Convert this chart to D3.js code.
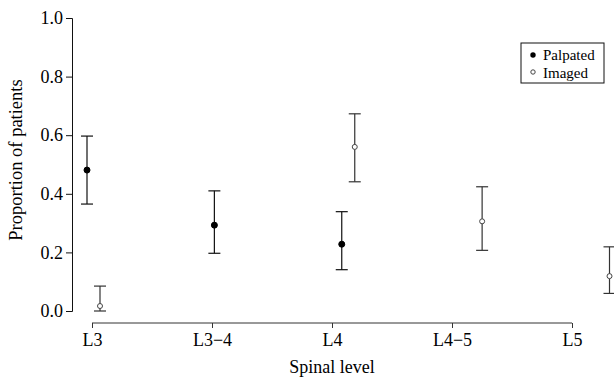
<!DOCTYPE html>
<html>
<head>
<meta charset="utf-8">
<script src="https://cdn.jsdelivr.net/npm/d3@7"></script>
<style>
  body { margin: 0; background: #fff; }
  text { font-family: "Liberation Serif", "DejaVu Serif", serif; }
</style>
</head>
<body>
<svg id="chart" width="614" height="378"></svg>
<script>
const levels = ["L3", "L3\u22124", "L4", "L4\u22125", "L5"];
const yTicks = [0, 0.2, 0.4, 0.6, 0.8, 1.0];

// proportion with lower/upper interval, per spinal level
const palpated = [
  { level: "L3", p: 0.481, lo: 0.365, hi: 0.597 },
  { level: "L3\u22124", p: 0.293, lo: 0.197, hi: 0.410 },
  { level: "L4", p: 0.228, lo: 0.141, hi: 0.339 }
];
const imaged = [
  { level: "L3", p: 0.017, lo: 0.0, hi: 0.085 },
  { level: "L4", p: 0.560, lo: 0.441, hi: 0.673 },
  { level: "L4\u22125", p: 0.306, lo: 0.207, hi: 0.424 },
  { level: "L5", p: 0.119, lo: 0.060, hi: 0.219 }
];

const svg = d3.select("#chart");
const FONT = "18px";

const y = d3.scaleLinear().domain([0, 1]).range([311, 18]);
// axis ticks and plotted points sit on slightly different spacing in the original
const xAxisScale = d3.scalePoint().domain(levels).range([92, 572]);
const xPts = d3.scalePoint().domain(levels).range([93.5, 603]);
const dodge = { palpated: -6.5, imaged: 6.5 };

// y axis
const yAxis = svg.append("g")
  .attr("transform", "translate(72,0)")
  .call(d3.axisLeft(y).tickValues(yTicks).tickFormat(d3.format(".1f")).tickSize(6).tickPadding(3));
yAxis.selectAll("path,line").attr("stroke", "#111");
yAxis.selectAll("text").style("font-size", FONT).attr("fill", "#000")
  .style("font-family", "'Liberation Serif', serif");

// x axis
const xAxis = svg.append("g")
  .attr("transform", "translate(0,323)")
  .call(d3.axisBottom(xAxisScale).tickSize(5).tickPadding(5).tickSizeOuter(0));
xAxis.select("path").attr("d", `M${xAxisScale(levels[0])},0H${xAxisScale(levels[4])}`);
xAxis.selectAll("path,line").attr("stroke", "#333");
xAxis.selectAll("text").style("font-size", FONT).attr("fill", "#000")
  .style("font-family", "'Liberation Serif', serif");

// axis titles
svg.append("text")
  .attr("x", 332).attr("y", 373)
  .attr("text-anchor", "middle")
  .style("font-size", FONT).attr("fill", "#000")
  .text("Spinal level");
svg.append("text")
  .attr("transform", "translate(22,160) rotate(-90)")
  .attr("text-anchor", "middle")
  .style("font-size", "18.5px").attr("fill", "#000")
  .text("Proportion of patients");

function drawSeries(data, key, color, filled) {
  const g = svg.append("g");
  const cx = d => xPts(d.level) + dodge[key];
  const cap = 6;
  g.selectAll("line.bar").data(data).join("line")
    .attr("x1", cx).attr("x2", cx)
    .attr("y1", d => y(d.lo)).attr("y2", d => y(d.hi))
    .attr("stroke", color).attr("stroke-width", 1.2);
  g.selectAll("line.top").data(data).join("line")
    .attr("x1", d => cx(d) - cap).attr("x2", d => cx(d) + cap)
    .attr("y1", d => y(d.hi)).attr("y2", d => y(d.hi))
    .attr("stroke", color).attr("stroke-width", 1.2);
  g.selectAll("line.bot").data(data).join("line")
    .attr("x1", d => cx(d) - cap).attr("x2", d => cx(d) + cap)
    .attr("y1", d => y(d.lo)).attr("y2", d => y(d.lo))
    .attr("stroke", color).attr("stroke-width", 1.2);
  g.selectAll("circle").data(data).join("circle")
    .attr("cx", cx).attr("cy", d => y(d.p))
    .attr("r", filled ? 3 : 2.5)
    .attr("fill", filled ? "#000" : "#fff")
    .attr("stroke", filled ? "#000" : "#444")
    .attr("stroke-width", 1);
}

drawSeries(palpated, "palpated", "#111", true);
drawSeries(imaged, "imaged", "#333", false);

// legend
const legend = svg.append("g").attr("transform", "translate(521,43)");
legend.append("rect")
  .attr("width", 83).attr("height", 40)
  .attr("fill", "#fff").attr("stroke", "#111").attr("stroke-width", 1);
legend.append("circle").attr("cx", 12).attr("cy", 12).attr("r", 2.7).attr("fill", "#000");
legend.append("circle").attr("cx", 12).attr("cy", 29).attr("r", 2.2)
  .attr("fill", "#fff").attr("stroke", "#444");
legend.append("text").attr("x", 22).attr("y", 17).style("font-size", "15px").text("Palpated");
legend.append("text").attr("x", 22).attr("y", 34.5).style("font-size", "15px").text("Imaged");
</script>
</body>
</html>
